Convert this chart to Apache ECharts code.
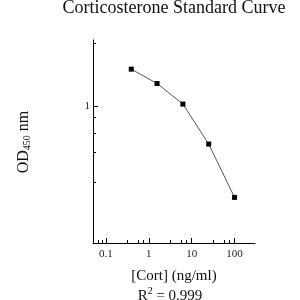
<!DOCTYPE html>
<html><head><meta charset="utf-8">
<script src="https://cdn.jsdelivr.net/npm/echarts@6/dist/echarts.min.js"></script>
<style>html,body{margin:0;padding:0;background:#fff}#c{width:300px;height:300px}</style>
</head><body><div id="c"></div>
<script>
const concentrations = [0.39, 1.56, 6.25, 25, 100];
const odValues = [1.50, 1.28, 1.02, 0.656, 0.364];
const xMajorTicks = [0.1, 1, 10, 100];
const xMinorTicks = [0.066, 0.082, 0.316, 0.562, 0.75, 3.16, 5.62, 7.5, 31.6, 56.2, 75];
const yMajorTicks = [1];
const yMinorTicks = [2, 0.886, 0.743, 0.596, 0.428];
const titleText = 'Corticosterone Standard Curve';
const xName = '[Cort] (ng/ml)';

const SERIF = '"Liberation Serif", "DejaVu Serif", serif';
const fmt = v => String(Math.round(v * 1000) / 1000);
const GL = 93, GR = 45, GT = 40, GB = 57;
const gw = 300 - GL - GR, gh = 300 - GT - GB;
const xMin = 0.05, xMax = 300, yMin = 0.22, yMax = 2.07;

const chart = echarts.init(document.getElementById('c'), null, {renderer: 'canvas'});
chart.setOption({
  animation: false,
  backgroundColor: '#fff',
  grid: {left: GL, right: GR, top: GT, bottom: GB},
  xAxis: [
    {type: 'log', min: xMin, max: xMax, position: 'bottom',
     axisLine: {show: true, lineStyle: {color: '#000', width: 1}},
     axisTick: {show: true, inside: true, length: 5, customValues: xMajorTicks, lineStyle: {color: '#000'}},
     axisLabel: {customValues: xMajorTicks, formatter: fmt, fontFamily: SERIF, fontSize: 11, color: '#222', margin: 6},
     splitLine: {show: false}, minorTick: {show: false}},
    {type: 'log', min: xMin, max: xMax, position: 'top', offset: -gh,
     axisLine: {show: false},
     axisTick: {show: true, inside: false, length: 3, customValues: xMinorTicks, lineStyle: {color: '#000'}},
     axisLabel: {show: false}, splitLine: {show: false}}
  ],
  yAxis: [
    {type: 'log', min: yMin, max: yMax, position: 'left',
     axisLine: {show: true, lineStyle: {color: '#000', width: 1}},
     axisTick: {show: true, inside: true, length: 5, customValues: yMajorTicks, lineStyle: {color: '#000'}},
     axisLabel: {customValues: yMajorTicks, formatter: fmt, fontFamily: SERIF, fontSize: 11, color: '#222', margin: 3},
     splitLine: {show: false}},
    {type: 'log', min: yMin, max: yMax, position: 'right', offset: -gw,
     axisLine: {show: false},
     axisTick: {show: true, inside: false, length: 3, customValues: yMinorTicks, lineStyle: {color: '#000'}},
     axisLabel: {show: false}, splitLine: {show: false}}
  ],
  series: [{
    type: 'line', xAxisIndex: 0, yAxisIndex: 0,
    data: concentrations.map((c, i) => [c, odValues[i]]),
    symbol: 'rect', symbolSize: 5, showSymbol: true,
    lineStyle: {color: '#555', width: 1},
    itemStyle: {color: '#000'}
  }],
  graphic: [
    {type: 'text', x: 174, y: 8, style: {text: titleText, font: '18px ' + SERIF, fill: '#111', align: 'center', verticalAlign: 'middle'}},
    {type: 'text', x: 174, y: 276, style: {text: xName, font: '15px ' + SERIF, fill: '#111', align: 'center', verticalAlign: 'middle'}},
    {type: 'text', x: 170, y: 295, style: {text: '{a|R}{s|2}{a| = 0.999}', align: 'center', verticalAlign: 'middle',
      rich: {a: {fontFamily: SERIF, fontSize: 15, fill: '#111', lineHeight: 18, verticalAlign: 'bottom'},
             s: {fontFamily: SERIF, fontSize: 10, fill: '#111', lineHeight: 12, verticalAlign: 'top'}}}},
    {type: 'text', x: 22, y: 142, rotation: Math.PI / 2, style: {text: '{a|OD}{s|450}{a| nm}', align: 'center', verticalAlign: 'middle',
      rich: {a: {fontFamily: SERIF, fontSize: 16, fill: '#111', lineHeight: 20, verticalAlign: 'bottom'},
             s: {fontFamily: SERIF, fontSize: 10, fill: '#111', lineHeight: 10, verticalAlign: 'bottom'}}}}
  ]
});
</script></body></html>
